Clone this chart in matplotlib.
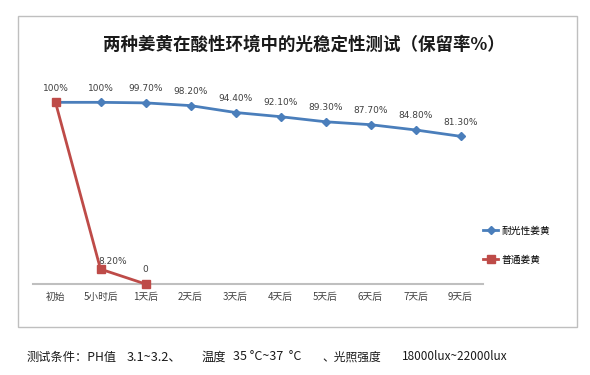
import matplotlib
matplotlib.use("Agg")
import matplotlib.pyplot as plt
from matplotlib.patches import Rectangle

plt.rcParams['font.family'] = ['Noto Sans CJK SC', 'DejaVu Sans']

categories = ["初始", "5小时后", "1天后", "2天后", "3天后", "4天后", "5天后", "6天后", "7天后", "9天后"]
light_fast = [100, 100, 99.7, 98.2, 94.4, 92.1, 89.3, 87.7, 84.8, 81.3]
light_fast_labels = ["100%", "100%", "99.70%", "98.20%", "94.40%", "92.10%", "89.30%", "87.70%", "84.80%", "81.30%"]
ordinary = [100, 8.2, 0]
ordinary_labels = ["100%", "8.20%", "0"]

title = "两种姜黄在酸性环境中的光稳定性测试（保留率%）"
footer_parts = ["测试条件：PH值", "3.1~3.2、", "温度", "35 °C~37  °C", "、光照强度", "18000lux~22000lux"]

W, H = 590, 375
fig = plt.figure(figsize=(W / 100, H / 100), dpi=100)

# chart border
fig.patches.append(Rectangle((18 / W, 1 - 327 / H), (577 - 18) / W, (327 - 16) / H,
                             transform=fig.transFigure, fill=False,
                             edgecolor="#bfbfbf", linewidth=1.0))

ax = fig.add_axes([33 / W, 1 - 284 / H, (483 - 33) / W, (284 - 66) / H])
x = list(range(len(categories)))

blue = "#4a7ebb"
red = "#be4b48"

l1, = ax.plot(x, light_fast, color=blue, linewidth=2, marker="D", markersize=4.5,
              label="耐光性姜黄", zorder=3)
l2, = ax.plot(x[:len(ordinary)], ordinary, color=red, linewidth=2, marker="s",
              markersize=6, label="普通姜黄", zorder=4)

for i, (v, lab) in enumerate(zip(light_fast, light_fast_labels)):
    if i == 0:
        continue
    ax.annotate(lab, (i, v), xytext=(0, 7), textcoords="offset points",
                ha="center", va="bottom", fontsize=6.5, color="#404040",
                family="DejaVu Sans")
offsets = [(0, 7), (9, 2), (0, 7)]
for i, (v, lab) in enumerate(zip(ordinary, ordinary_labels)):
    ax.annotate(lab, (i, v), xytext=offsets[i], textcoords="offset points",
                ha="center", va="bottom", fontsize=6.5, color="#404040",
                family="DejaVu Sans")

ax.set_xlim(-0.5, len(categories) - 0.5)
ax.set_ylim(0, 120)
ax.set_xticks(x)
ax.set_xticklabels(categories, fontsize=7, color="#404040")
ax.tick_params(axis="x", length=0, pad=6)
ax.set_yticks([])
for s in ["top", "right", "left"]:
    ax.spines[s].set_visible(False)
ax.spines["bottom"].set_color("#bfbfbf")
ax.spines["bottom"].set_linewidth(1.5)
for ln in (l1, l2):
    ln.set_clip_on(False)

fig.text(304 / W, 1 - 45 / H, title, ha="center", va="center",
         fontsize=12.6, fontweight="bold", color="#1a1a1a")

fig.legend(handles=[l1, l2], loc="upper left",
           bbox_to_anchor=(479 / W, 1 - 222 / H), frameon=False,
           fontsize=7, handlelength=1.6, handletextpad=0.3,
           labelspacing=1.9, borderaxespad=0)

footer_x = [27, 127, 202, 233, 322, 402]
footer_sizes = [8.8, 9.2, 8.8, 9.0, 8.5, 8.5]
for px, part, fs in zip(footer_x, footer_parts, footer_sizes):
    fig.text(px / W, 1 - 357 / H, part, ha="left", va="center", fontsize=fs,
             color="#1a1a1a")

fig.savefig("out.png", dpi=100)
